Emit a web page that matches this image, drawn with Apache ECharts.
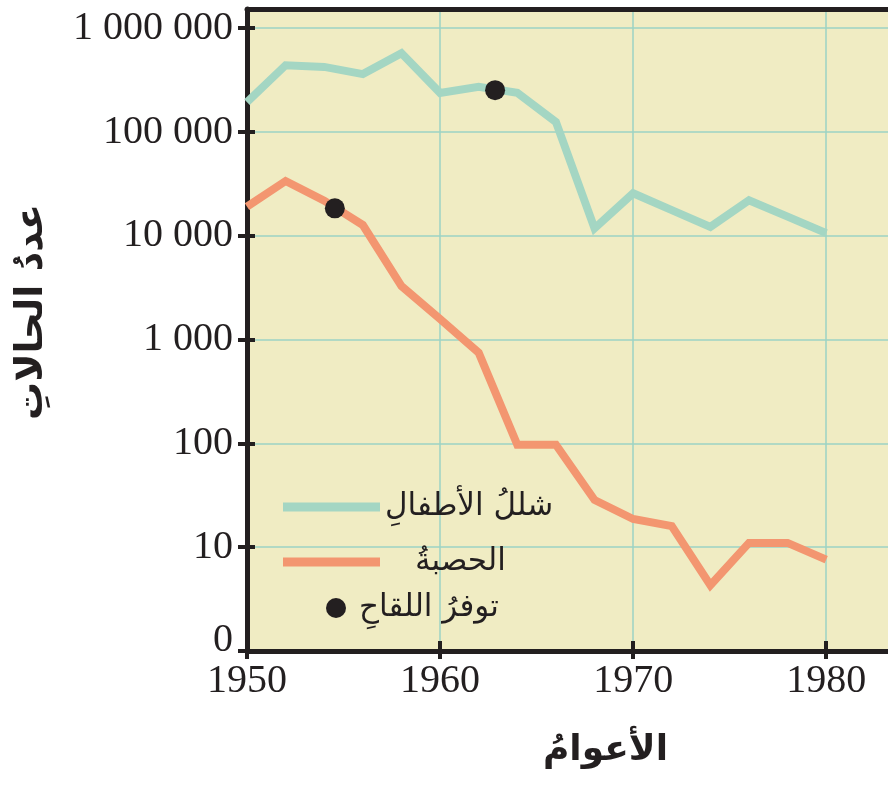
<!DOCTYPE html>
<html><head><meta charset="utf-8">
<script src="https://cdn.jsdelivr.net/npm/echarts@6/dist/echarts.min.js"></script>
<style>html,body{margin:0;padding:0;background:#fff}#c{width:888px;height:792px}</style>
</head><body><div id="c"></div>
<script>
const polioYears = [1950,1952,1954,1956,1958,1960,1962,1964,1966,1968,1970,1972,1974,1976,1978,1980];
const polioCases = [194000,440000,424000,361000,574000,238000,272000,238000,125000,11800,25700,17700,12200,22000,15300,10600];
const measlesYears = [1950,1952,1954,1956,1958,1960,1962,1964,1966,1968,1970,1972,1974,1976,1978,1980];
const measlesCases = [19100,33700,21800,12700,3280,1580,748,97,97,28.5,18.7,16,4.3,11,11,7.6];
const vaccineYears = [1954.55,1962.85];
const vaccineCases = [18400,253000];
const yTickValues = [1,10,100,1000,10000,100000,1000000];
const yTickLabels = ['0','10','100','1 000','10 000','100 000','1 000 000'];
const xTickValues = [1950,1960,1970,1980];
const names = {polio:'شللُ الأطفالِ', measles:'الحصبةُ', vaccine:'توفرُ اللقاحِ', x:'الأعوامُ', y:'عددُ الحالاتِ'};

const INK = '#231f20';
const numFont = 'Liberation Serif';
const arFont = 'DejaVu Sans';
const chart = echarts.init(document.getElementById('c'), null, {renderer:'canvas'});
const yLabel = v => { const i = yTickValues.indexOf(v); if (i === 0) return '{z|0}'; return i >= 0 ? yTickLabels[i] : ''; };
const yMax = 1531000;
const xMax = 1983.2;
const grid = {color:'#9dd3c4', width:1.5};
chart.setOption({
  animation:false,
  grid:{left:247, top:9, right:0, bottom:141, show:true, backgroundColor:'#f0ecc3', borderWidth:0},
  xAxis:[{
    type:'value', min:1950, max:xMax, interval:10,
    name:names.x, nameLocation:'middle', nameGap:82,
    nameTextStyle:{fontFamily:arFont, fontWeight:'bold', fontSize:36, color:INK, padding:[0,0,0,76]},
    axisLine:{show:true, lineStyle:{color:INK, width:5}},
    axisTick:{show:true, length:8, customValues:xTickValues, lineStyle:{color:INK, width:4}},
    axisLabel:{fontFamily:numFont, fontSize:40, color:INK, margin:10, customValues:xTickValues, formatter:v => String(v)},
    splitLine:{show:true, lineStyle:grid}
  },{
    type:'value', min:1950, max:xMax, interval:10, position:'bottom',
    axisLine:{show:false}, axisLabel:{show:false}, splitLine:{show:false},
    axisTick:{show:true, inside:true, length:10, customValues:xTickValues, lineStyle:{color:INK, width:4}}
  },{
    type:'value', min:1950, max:xMax, interval:10, position:'top',
    axisLine:{show:true, lineStyle:{color:INK, width:5}},
    axisLabel:{show:false}, splitLine:{show:false}, axisTick:{show:false}
  }],
  yAxis:[{
    type:'log', logBase:10, min:1, max:yMax, splitNumber:6,
    name:names.y, nameLocation:'middle', nameGap:196, nameRotate:90,
    nameTextStyle:{fontFamily:arFont, fontWeight:'bold', fontSize:38, color:INK, padding:[0,0,0,36]},
    axisLine:{show:true, lineStyle:{color:INK, width:5}},
    axisTick:{show:true, length:9, customValues:yTickValues, lineStyle:{color:INK, width:4}},
    axisLabel:{fontFamily:numFont, fontSize:40, color:INK, margin:14, customValues:yTickValues, formatter:yLabel,
      rich:{z:{fontFamily:numFont, fontSize:40, color:INK, padding:[0,0,22,0]}}},
    splitLine:{show:true, lineStyle:grid}
  },{
    type:'log', logBase:10, min:1, max:yMax, splitNumber:6, position:'left',
    axisLine:{show:false}, axisLabel:{show:false}, splitLine:{show:false},
    axisTick:{show:true, inside:true, length:8, customValues:yTickValues, lineStyle:{color:INK, width:4}}
  }],
  legend:[{
    data:[{name:names.polio}, {name:names.measles, textStyle:{padding:[0,0,0,30]}}],
    orient:'vertical', left:283, top:487, padding:0,
    icon:'rect', itemWidth:97, itemHeight:9, itemGap:15,
    textStyle:{fontFamily:arFont, fontSize:31, color:INK, lineHeight:40}
  },{
    data:[names.vaccine], orient:'vertical', left:326, top:588, padding:0,
    icon:'circle', itemWidth:20, itemHeight:20,
    textStyle:{fontFamily:arFont, fontSize:31, color:INK, lineHeight:40, padding:[0,0,0,8]}
  }],
  series:[{
    name:names.polio, type:'line', showSymbol:false, symbol:'none',
    data:polioYears.map((y,i)=>[y,polioCases[i]]),
    itemStyle:{color:'#a4d6c3'}, lineStyle:{color:'#a4d6c3', width:8, join:'miter'}, z:3
  },{
    name:names.measles, type:'line', showSymbol:false, symbol:'none',
    data:measlesYears.map((y,i)=>[y,measlesCases[i]]),
    itemStyle:{color:'#f39670'}, lineStyle:{color:'#f39670', width:8, join:'miter'}, z:3
  },{
    name:names.vaccine, type:'scatter', symbol:'circle', symbolSize:20,
    data:vaccineYears.map((y,i)=>[y,vaccineCases[i]]),
    itemStyle:{color:INK, opacity:1}, z:5
  }]
});
</script></body></html>
